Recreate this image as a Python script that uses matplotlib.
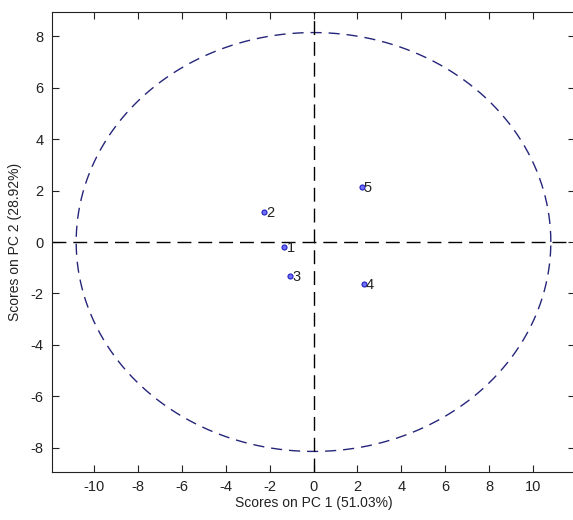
import numpy as np
import matplotlib
matplotlib.use("Agg")
import matplotlib.pyplot as plt

# Data
labels = ["1", "2", "3", "4", "5"]
pc1 = [-1.32, -2.23, -1.05, 2.29, 2.19]
pc2 = [-0.19, 1.16, -1.31, -1.63, 2.15]
ellipse_a = 10.8
ellipse_b = 8.15
xticks = [-10, -8, -6, -4, -2, 0, 2, 4, 6, 8, 10]
yticks = [-8, -6, -4, -2, 0, 2, 4, 6, 8]

plt.rcParams['font.family'] = ['Liberation Sans', 'DejaVu Sans']
plt.rcParams['axes.unicode_minus'] = False

W, H = 573, 520
fig = plt.figure(figsize=(W / 100, H / 100), dpi=100)
left, right, top, bottom = 52, 575, 12, 472
ax = fig.add_axes([left / W, 1 - bottom / H, (right - left) / W, (bottom - top) / H])

xlim = (-11.9, 11.9)
ylim = (-8.95, 8.95)
ax.set_xlim(*xlim)
ax.set_ylim(*ylim)

# ellipse
t = np.linspace(0, 2 * np.pi, 400)
ax.plot(ellipse_a * np.cos(t), ellipse_b * np.sin(t), linestyle=(0, (8, 5)),
        color='#25257a', lw=1.0)

# zero lines
ax.axhline(0, color='black', linestyle=(0, (10, 5)), lw=1.0)
ax.axvline(0, color='black', linestyle=(0, (10, 5)), lw=1.0)

# points
ax.scatter(pc1, pc2, s=13, facecolor='#7070ff', edgecolor='#2020c0', linewidths=0.8, zorder=3)
for x, y, lab in zip(pc1, pc2, labels):
    ax.text(x + 0.1, y - 0.05, lab, fontsize=10.5, va='center', ha='left', color='#222222')

ax.set_xticks(xticks)
ax.set_yticks(yticks)
ax.tick_params(direction='in', top=True, right=True, length=5, width=0.8,
               labelsize=10.5, colors='#222222', pad=6)
for s in ax.spines.values():
    s.set_linewidth(0.8)
    s.set_color('#222222')

ax.set_xlabel('Scores on PC 1 (51.03%)', fontsize=10, labelpad=1, color='#222222')
ax.set_ylabel('Scores on PC 2 (28.92%)', fontsize=10, labelpad=6, color='#222222')

fig.savefig('out.png', dpi=100)
